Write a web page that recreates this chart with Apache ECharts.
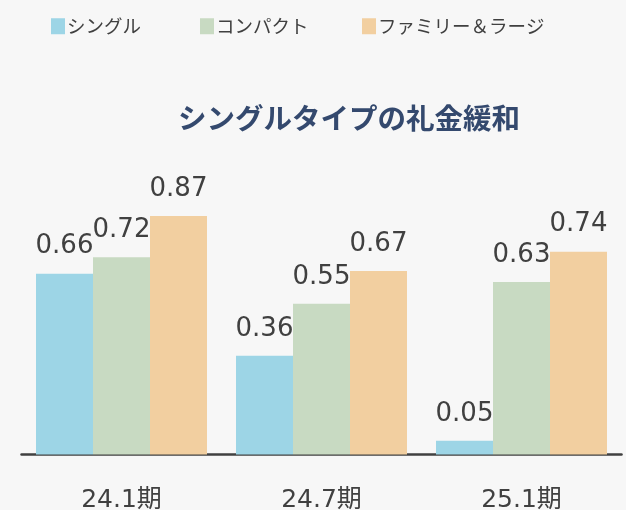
<!DOCTYPE html>
<html>
<head>
<meta charset="utf-8">
<script src="https://cdn.jsdelivr.net/npm/echarts@6/dist/echarts.min.js"></script>
<style>
html, body { margin: 0; padding: 0; background: #f7f7f7; }
#chart { width: 626px; height: 510px; }
</style>
</head>
<body>
<div id="chart"></div>
<script>
// データ
var categories = ['24.1期', '24.7期', '25.1期'];
var seriesNames = ['シングル', 'コンパクト', 'ファミリー＆ラージ'];
var single = [0.66, 0.36, 0.05];
var compact = [0.72, 0.55, 0.63];
var family = [0.87, 0.67, 0.74];

var numFont = "'DejaVu Sans', 'Noto Sans CJK JP', sans-serif";
var jpFont = "'Noto Sans CJK JP', sans-serif";

var labelStyle = {
    show: true,
    position: 'top',
    distance: 14,
    fontSize: 26,
    color: '#404040',
    fontFamily: numFont,
    formatter: function (p) { return p.value.toFixed(2); }
};

// 凡例は項目ごとに位置を合わせる
var legendLeft = [46, 195, 357];
var legends = seriesNames.map(function (n, i) {
    return {
        left: legendLeft[i],
        top: 12,
        itemWidth: 14,
        itemHeight: 16,
        itemGap: 0,
        icon: 'rect',
        textStyle: { fontSize: 18.5, color: '#404040', fontFamily: jpFont, padding: [0, 0, 0, -3] },
        data: [n]
    };
});

var chart = echarts.init(document.getElementById('chart'));
chart.setOption({
    backgroundColor: '#f7f7f7',
    animation: false,
    title: {
        text: 'シングルタイプの礼金緩和',
        left: 344,
        textAlign: 'center',
        top: 99,
        textStyle: {
            fontSize: 28.5,
            fontWeight: 'bold',
            color: '#34496e',
            fontFamily: jpFont
        }
    },
    legend: legends,
    grid: {
        left: 21.5,
        right: 4.5,
        top: 180.5,
        bottom: 55.5,
        containLabel: false,
        outerBoundsMode: 'none'
    },
    xAxis: {
        type: 'category',
        data: categories,
        axisLine: { lineStyle: { color: '#404040', width: 2.5 } },
        axisTick: { show: false },
        axisLabel: {
            fontSize: 25,
            color: '#404040',
            fontFamily: numFont,
            margin: 33
        }
    },
    yAxis: {
        type: 'value',
        min: 0,
        max: 1,
        show: false
    },
    series: [{
        name: seriesNames[0],
        type: 'bar',
        data: single,
        barGap: '0%',
        barCategoryGap: '14.5%',
        itemStyle: { color: '#9dd5e6' },
        label: labelStyle
    }, {
        name: seriesNames[1],
        type: 'bar',
        data: compact,
        itemStyle: { color: '#c8dac2' },
        label: labelStyle
    }, {
        name: seriesNames[2],
        type: 'bar',
        data: family,
        itemStyle: { color: '#f2cfa0' },
        label: labelStyle
    }]
});
</script>
</body>
</html>
